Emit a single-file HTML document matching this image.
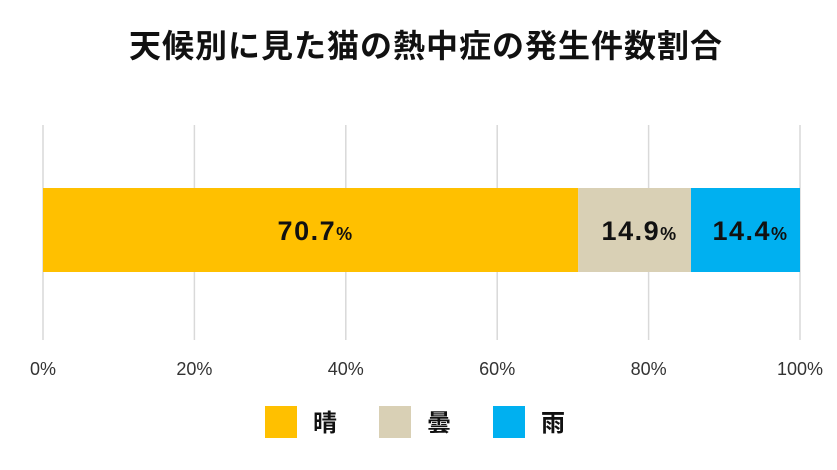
<!DOCTYPE html>
<html><head><meta charset="utf-8"><style>
body{margin:0;background:#fff;width:837px;height:465px;overflow:hidden;font-family:"Liberation Sans","Noto Sans CJK JP",sans-serif}
</style></head><body>
<svg width="837" height="465">
<text x="426" y="57" text-anchor="middle" font-size="32" font-weight="bold" fill="#111" letter-spacing="1" font-family="'Liberation Sans','Noto Sans CJK JP',sans-serif">天候別に見た猫の熱中症の発生件数割合</text>
<g id="grid"></g><g id="bars"></g><g id="ticks"></g><g id="legend"></g>
</svg>
<script>
const categories=["晴","曇","雨"];
const values=[70.7,14.9,14.4];
const colors=["#FFC000","#D9D0B5","#00B0F0"];
const tickValues=[0,20,40,60,80,100];
const x0=43,x1=800,barY=188,barH=84;
const xs=v=>x0+(x1-x0)*v/100;
const NS="http://www.w3.org/2000/svg";
function mk(t,a,p){const e=document.createElementNS(NS,t);for(const k in a)e.setAttribute(k,a[k]);p.appendChild(e);return e;}
const grid=document.getElementById('grid'),ticks=document.getElementById('ticks'),bars=document.getElementById('bars'),leg=document.getElementById('legend');
tickValues.forEach(v=>{
const l=mk('line',{x1:xs(v),x2:xs(v),y1:125,y2:340,stroke:'#d9d9d9','stroke-width':1.5},grid);


const t=mk('text',{x:xs(v),y:375,'text-anchor':'middle','font-size':18,fill:'#333'},ticks);
t.textContent=v+'%';


});
let acc=0;
values.forEach((v,i)=>{
const r=mk('rect',{x:xs(acc),y:barY,width:xs(acc+v)-xs(acc),height:barH,fill:colors[i]},bars);


const t=mk('text',{x:(xs(acc)+xs(acc+v))/2+5,y:barY+barH/2+10,'text-anchor':'middle','font-weight':'bold',fill:'#111','letter-spacing':1.5},bars);
t.innerHTML='<tspan font-size="27">'+v.toFixed(1)+'</tspan><tspan font-size="18">%</tspan>';


acc+=v;
});
categories.forEach((c,i)=>{
const lx=265+i*114;
const r=mk('rect',{x:lx,y:406,width:32,height:32,fill:colors[i]},leg);


const t=mk('text',{x:lx+48,y:431,'font-size':24,'font-weight':'bold',fill:'#111'},leg);
t.textContent=c;


});
</script>
</body></html>
